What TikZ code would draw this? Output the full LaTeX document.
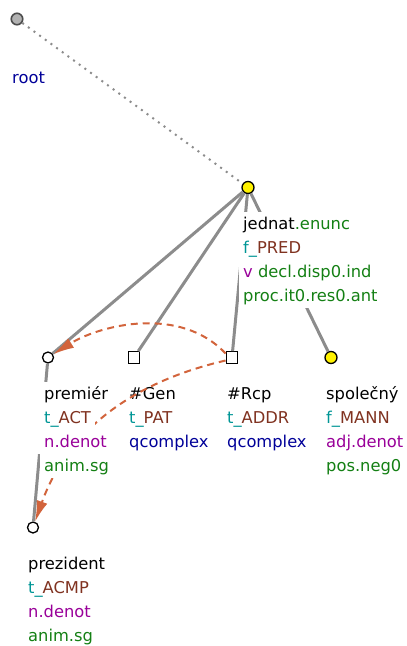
\documentclass[tikz,border=0pt]{standalone}
\usepackage{fontspec}
\setmainfont{DejaVu Sans}
\usetikzlibrary{arrows.meta}
\definecolor{cteal}{RGB}{0,150,150}
\definecolor{cbrown}{RGB}{128,50,32}
\definecolor{cpurple}{RGB}{153,0,153}
\definecolor{cblue}{RGB}{0,0,153}
\definecolor{cgreen}{RGB}{20,128,20}
\definecolor{corange}{RGB}{210,100,60}
\definecolor{cedge}{RGB}{140,140,140}
\newcommand\lbl[4]{\node[lbl] (#1) at (#2,#3) {#4};}
\newcommand\fn[2]{\textcolor{cteal}{#1\_}\textcolor{cbrown}{#2}}
\begin{document}
\begin{tikzpicture}[x=1pt,y=-1pt,
  tcirc/.style={circle, draw=black, fill=white, line width=1.3pt, minimum size=11pt, inner sep=0pt},
  ycirc/.style={tcirc, fill=yellow, minimum size=12pt},
  rcirc/.style={tcirc, draw=black!70, fill=black!30, line width=1.6pt, minimum size=11.5pt},
  tsq/.style={rectangle, draw=black, fill=white, line width=1.3pt, minimum size=11.5pt, inner sep=0pt},
  edge/.style={draw=cedge, line width=3pt},
  rootedge/.style={draw=black!45, line width=2pt, dash pattern=on 2pt off 5pt},
  coref/.style={draw=corange, line width=2pt, dash pattern=on 7pt off 5pt, -{Latex[length=21pt,width=11pt]}},
  lbl/.style={anchor=base west, fill=white, inner xsep=4pt, inner ysep=0pt, text height=16.8pt, text depth=7.2pt, font=\fontsize{16.3}{24}\selectfont}]
\useasboundingbox (0,0) rectangle (407,646);
% nodes
\node[rcirc] (root) at (17,19) {};
\node[ycirc] (jed) at (248,187.5) {};
\node[tcirc] (pre) at (48,357.5) {};
\node[tsq] (gen) at (134,357.5) {};
\node[tsq] (rcp) at (232,357.5) {};
\node[ycirc] (spo) at (331,357.5) {};
\node[tcirc] (prz) at (33,527.5) {};
% edges
\draw[rootedge] (root) -- (jed);
\draw[edge] (jed) -- (pre);
\draw[edge] (jed) -- (gen);
\draw[edge] (jed) -- (rcp);
\draw[edge] (jed) -- (spo);
\draw[edge] (pre) -- (prz);
% labels
\lbl{rootA}{8}{83}{\textcolor{cblue}{root}}
\lbl{jedA}{239}{229}{jednat\textcolor{cgreen}{.enunc}}
\lbl{jedB}{239}{253}{\fn{f}{PRED}}
\lbl{jedC}{239}{277}{\textcolor{cpurple}{v} \textcolor{cgreen}{decl.disp0.ind}}
\lbl{jedD}{239}{301}{\textcolor{cgreen}{proc.it0.res0.ant}}
\lbl{genA}{125}{399}{\#Gen}
\lbl{genB}{125}{423}{\fn{t}{PAT}}
\lbl{genC}{125}{447}{\textcolor{cblue}{qcomplex}}
\lbl{rcpA}{223}{399}{\#Rcp}
\lbl{rcpB}{223}{423}{\fn{t}{ADDR}}
\lbl{rcpC}{223}{447}{\textcolor{cblue}{qcomplex}}
\lbl{spoA}{322}{399}{společný}
\lbl{spoB}{322}{423}{\fn{f}{MANN}}
\lbl{spoC}{322}{447}{\textcolor{cpurple}{adj.denot}}
\lbl{spoD}{322}{471}{\textcolor{cgreen}{pos.neg0}}
\lbl{przA}{24}{569}{prezident}
\lbl{przB}{24}{593}{\fn{t}{ACMP}}
\lbl{przC}{24}{617}{\textcolor{cpurple}{n.denot}}
\lbl{przD}{24}{641}{\textcolor{cgreen}{anim.sg}}
% coreference arrows
\draw[coref] ([yshift=4pt]rcp.west) .. controls (180,305) and (100,325) .. (pre);
\draw[coref] ([yshift=-3pt]rcp.west) .. controls (120,385) and (64,440) .. (prz);
% labels drawn over the arrows (left margin widened to hide the edge)
\lbl{preA}{36}{399}{\hspace*{4pt}premiér}
\lbl{preB}{36}{423}{\hspace*{4pt}\fn{t}{ACT}}
\lbl{preC}{36}{447}{\hspace*{4pt}\textcolor{cpurple}{n.denot}}
\lbl{preD}{40}{471}{\textcolor{cgreen}{anim.sg}}
\end{tikzpicture}
\end{document}
